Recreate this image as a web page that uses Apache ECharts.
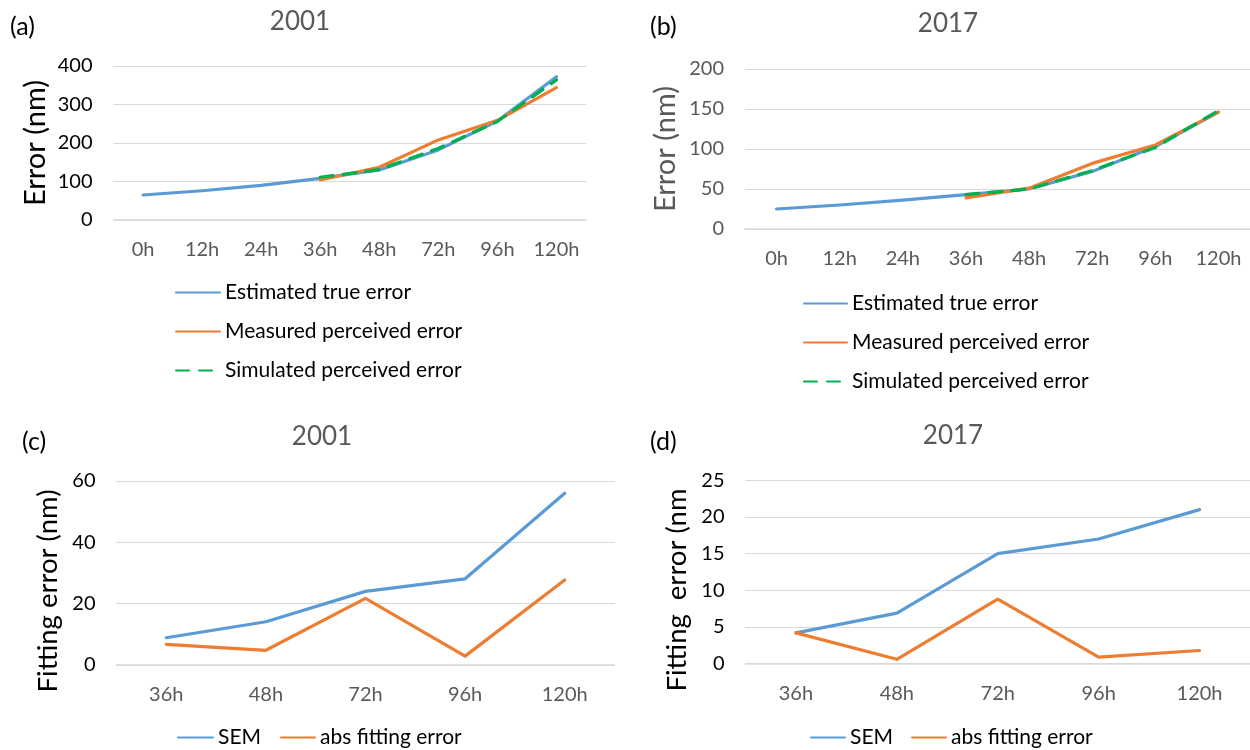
<!DOCTYPE html>
<html>
<head>
<meta charset="utf-8">
<script src="https://cdn.jsdelivr.net/npm/echarts@6/dist/echarts.min.js"></script>
<style>
html,body{margin:0;padding:0;background:#fff;}
#c{width:1250px;height:750px;}
</style>
</head>
<body>
<div id="c"></div>
<script>
// ---- data ----
var hoursTop = ['0h','12h','24h','36h','48h','72h','96h','120h'];
var hoursBottom = ['36h','48h','72h','96h','120h'];

var trueErr2001 = [65, 76, 90, 108, 130, 182, 257, 372];
var measErr2001 = [null, null, null, 104, 137, 208, 259, 344];
var simErr2001  = [null, null, null, 111, 131, 186, 256, 364];

var trueErr2017 = [25, 30, 36, 43, 50, 72, 103, 146];
var measErr2017 = [null, null, null, 39, 51, 82, 105, 146];
var simErr2017  = [null, null, null, 43, 50, 73, 102, 148];

var sem2001 = [8.9, 14.1, 24.0, 28.1, 56.0];
var abs2001 = [6.7, 4.8, 21.7, 2.9, 27.7];
var sem2017 = [4.2, 6.9, 15.0, 17.0, 21.0];
var abs2017 = [4.2, 0.6, 8.8, 0.9, 1.8];

var seriesNamesTop = ['Estimated true error', 'Measured perceived error', 'Simulated perceived error'];
var seriesNamesBottom = ['SEM', 'abs fitting error'];

// ---- styles ----
var FONT = 'Lato';
var BLUE = '#5B9BD5', ORANGE = '#ED7D31', GREEN = '#00B050';
var GRAY = '#595959', GRID = '#D9D9D9';

function xAx(idx, cats) {
  return {
    type: 'category', gridIndex: idx, data: cats, boundaryGap: true,
    axisLine: {show: true, lineStyle: {color: GRID, width: 1.5}},
    axisTick: {show: false},
    axisLabel: {color: GRAY, fontFamily: FONT, fontSize: 20, margin: 20, interval: 0, hideOverlap: false}
  };
}
function yAx(idx, max, interval, name, labelColor, nameGap, nameSize) {
  return {
    type: 'value', gridIndex: idx, min: 0, max: max, interval: interval,
    name: name, nameLocation: 'middle', nameRotate: 90, nameGap: nameGap,
    nameTextStyle: {color: labelColor, fontFamily: FONT, fontSize: nameSize,
                    padding: idx >= 2 ? [0, 36, 0, 0] : [0, 0, 0, 0]},
    axisLine: {show: false}, axisTick: {show: false},
    splitLine: {show: true, lineStyle: {color: GRID, width: 1}},
    axisLabel: {color: labelColor, fontFamily: FONT, fontSize: 20, margin: 21}
  };
}
function line(name, idx, data, color, dashed, z) {
  return {
    type: 'line', name: name, xAxisIndex: idx, yAxisIndex: idx, data: data,
    symbol: 'none', showSymbol: false, connectNulls: false, z: z,
    lineStyle: {color: color, width: 3.2, type: dashed ? [13, 10] : 'solid', cap: 'round', join: 'round'},
    itemStyle: {color: color}
  };
}
function legendBox(left, top, width, names, orient, gap) {
  return {
    orient: orient, left: left, top: top, padding: 0,
    itemWidth: width, itemHeight: 3, itemGap: gap,
    itemStyle: {opacity: 0},
    data: names.map(function(n){return {name: n};}),
    textStyle: {color: '#000', fontFamily: FONT, fontSize: 21, lineHeight: 20}
  };
}
function titleText(text, left, top, size, color, center) {
  var t = {text: text, left: left, top: top, padding: 0,
           textStyle: {color: color, fontFamily: FONT, fontSize: size, fontWeight: 'normal'}};
  if (center) t.textAlign = 'center';
  return t;
}

var chart = echarts.init(document.getElementById('c'), null, {renderer: 'canvas'});

var option = {
  backgroundColor: '#fff',
  animation: false,
  title: [
    titleText('2001', 300, 9, 26, GRAY, true),
    titleText('2017', 948, 11, 26, GRAY, true),
    titleText('2001', 322, 424, 26, GRAY, true),
    titleText('2017', 953, 423, 26, GRAY, true),
    titleText('(a)', 10, 14, 25, '#000', false),
    titleText('(b)', 650, 14, 25, '#000', false),
    titleText('(c)', 22, 429, 25, '#000', false),
    titleText('(d)', 650, 429, 25, '#000', false)
  ],
  grid: [
    {left: 113.5, top: 66, width: 472.5, height: 154},
    {left: 745, top: 69, width: 505, height: 160},
    {left: 116.5, top: 481, width: 498, height: 184},
    {left: 745.5, top: 480.3, width: 505, height: 183.4}
  ],
  xAxis: [xAx(0, hoursTop), xAx(1, hoursTop), xAx(2, hoursBottom), xAx(3, hoursBottom)],
  yAxis: [
    yAx(0, 400, 100, 'Error (nm)', '#000', 63, 29),
    yAx(1, 200, 50, 'Error (nm)', GRAY, 65, 29),
    yAx(2, 60, 20, 'Fitting error (nm)', '#000', 54, 27.5),
    yAx(3, 25, 5, 'Fitting  error (nm', '#000', 54, 27.5)
  ],
  legend: [
    legendBox(175, 282, 44, seriesNamesTop, 'vertical', 18),
    legendBox(803, 293, 43, seriesNamesTop, 'vertical', 18),
    legendBox(177, 727, 35, [seriesNamesBottom[0]], 'horizontal', 10),
    legendBox(280, 727, 34, [seriesNamesBottom[1]], 'horizontal', 10),
    legendBox(810, 727, 34, [seriesNamesBottom[0]], 'horizontal', 10),
    legendBox(911, 727, 34, [seriesNamesBottom[1]], 'horizontal', 10)
  ],
  series: [
    line(seriesNamesTop[0], 0, trueErr2001, BLUE, false, 2),
    line(seriesNamesTop[1], 0, measErr2001, ORANGE, false, 3),
    line(seriesNamesTop[2], 0, simErr2001, GREEN, true, 4),
    line(seriesNamesTop[0], 1, trueErr2017, BLUE, false, 2),
    line(seriesNamesTop[1], 1, measErr2017, ORANGE, false, 3),
    line(seriesNamesTop[2], 1, simErr2017, GREEN, true, 4),
    line(seriesNamesBottom[0], 2, sem2001, BLUE, false, 2),
    line(seriesNamesBottom[1], 2, abs2001, ORANGE, false, 3),
    line(seriesNamesBottom[0], 3, sem2017, BLUE, false, 2),
    line(seriesNamesBottom[1], 3, abs2017, ORANGE, false, 3)
  ]
};
chart.setOption(option);
</script>
</body>
</html>
